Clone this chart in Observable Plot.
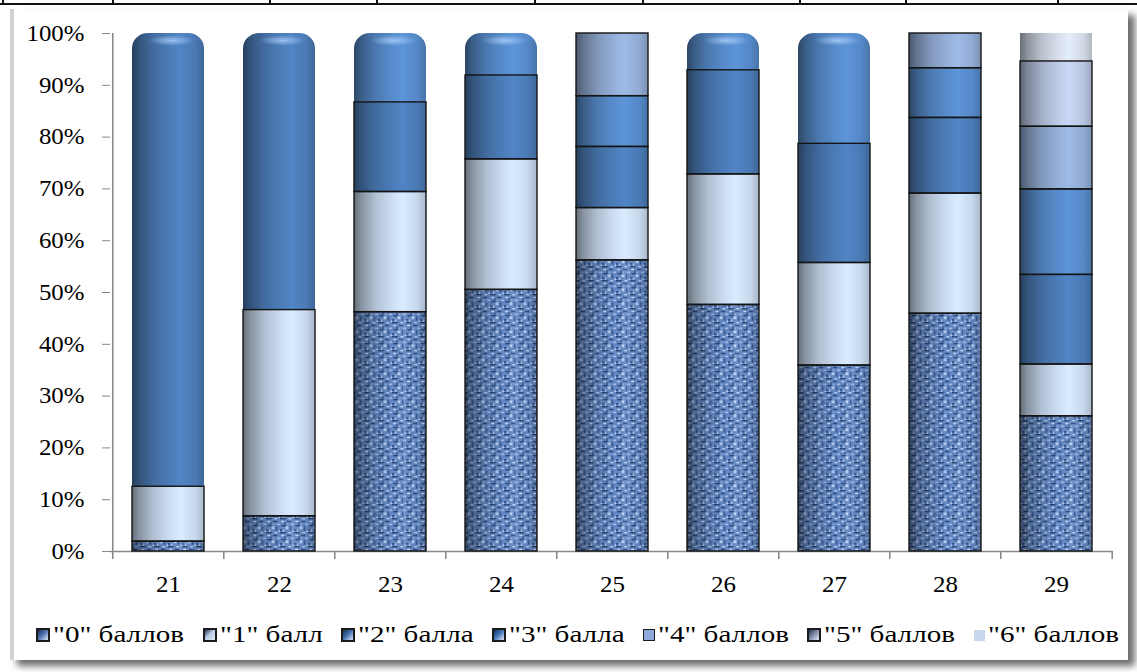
<!DOCTYPE html>
<html>
<head>
<meta charset="utf-8">
<script src="https://cdn.jsdelivr.net/npm/d3@7"></script>
<script src="https://cdn.jsdelivr.net/npm/@observablehq/plot@0.6"></script>
<style>
  html, body { margin: 0; padding: 0; background: #fff; }
  #page { position: relative; width: 1137px; height: 672px; overflow: hidden; background: #fff;
          font-family: "Liberation Serif", "Times New Roman", "DejaVu Serif", serif; }
  .hline { position: absolute; left: 0; top: 3px; width: 1137px; height: 2px; background: #111; }
  .vline { position: absolute; top: 0; width: 2px; height: 5px; background: #111; }
  #card { position: absolute; left: 10px; top: 9px; width: 1114px; height: 651px; background: #fff;
          border-left: 4px solid #d2d2d2;
          box-shadow: 7px 6px 7px rgba(60,60,60,0.75); }
  #chart { position: absolute; left: 0; top: 0; }
  #legend { position: absolute; left: 0; top: 622px; width: 1137px; display: flex; justify-content: center;
            align-items: center; gap: 18.5px; font-size: 23px; color: #000; padding-left: 18px; box-sizing: border-box; }
  .item { display: flex; align-items: center; white-space: nowrap; }
  .icon { width: 10px; height: 10px; border: 2px solid #1b1b1b; margin-right: 3px; box-sizing: content-box; }
  .lab { display: inline-block; overflow: visible; }
  .inner { display: inline-block; transform-origin: 0 50%; }
</style>
</head>
<body>
<div id="page">
  <div class="hline"></div>
  <div id="card"></div>
  <div id="chart"></div>
  <div id="legend"></div>
</div>
<script>
// ---- data (percent of pupils per score, per task) ----
const categories = ["21", "22", "23", "24", "25", "26", "27", "28", "29"];
const seriesNames = ['"0" баллов', '"1" балл', '"2" балла', '"3" балла', '"4" баллов', '"5" баллов', '"6" баллов'];
const score0 = [1.9, 6.8, 46.2, 50.5, 56.2, 47.6, 35.9, 45.9, 26.1];
const score1 = [10.6, 39.8, 23.2, 25.2, 10.1, 25.2, 19.8, 23.2, 10.0];
const score2 = [87.5, 53.4, 17.3, 16.2, 11.8, 20.1, 23.0, 14.6, 17.3];
const score3 = [0, 0, 13.3, 8.1, 9.8, 7.1, 21.3, 9.6, 16.5];
const score4 = [0, 0, 0, 0, 12.1, 0, 0, 6.7, 12.1];
const score5 = [0, 0, 0, 0, 0, 0, 0, 0, 12.6];
const score6 = [0, 0, 0, 0, 0, 0, 0, 0, 5.4];
const yTicks = [0, 10, 20, 30, 40, 50, 60, 70, 80, 90, 100];

// ---- styles ----
const seriesValues = [score0, score1, score2, score3, score4, score5, score6];
const seriesColors = ["#6186c2", "#d3e5fb", "#4f81bf", "#5a91d3", "#9ab5e0", "#c3d2ee", "#dde6f3"];
const iconColors = ["#4a70b0", "#b9cbe6", "#3f6fb0", "#3f73b8", "#8eaadb", "#7d8aa3", "#c9d5ea"];
const axisGray = "#8a8a8a";

// ---- build stacked segments ----
const segs = [];
categories.forEach((cat, i) => {
  let acc = 0;
  const list = [];
  seriesValues.forEach((vals, s) => {
    const v = vals[i];
    if (v > 0) { list.push({cat, s, y1: acc, y2: acc + v}); acc += v; }
  });
  const top = list[list.length - 1];
  if (top.s === 2 || top.s === 3) top.cap = true;
  segs.push(...list);
});
const plain = segs.filter(d => !d.cap);
const caps = segs.filter(d => d.cap);
const mid = d => (d.y1 + d.y2) / 2;
const baseFill = d => d.s === 0 ? "url(#tex0)" : `url(#g${d.s})`;

const W = 1137, H = 600;
const mL = 110, mR = 24, mT = 33, mB = 49;
const halfStep = (W - mL - mR) / categories.length / 2;
const fontStack = "'Liberation Serif', 'Times New Roman', 'DejaVu Serif', serif";

const plot = Plot.plot({
  width: W, height: H,
  marginLeft: mL, marginRight: mR, marginTop: mT, marginBottom: mB,
  style: {background: "transparent", fontFamily: fontStack, color: "#000", overflow: "visible"},
  x: {domain: categories, paddingInner: 0.354, paddingOuter: 0.177, label: null},
  y: {domain: [0, 100], label: null},
  color: {type: "identity"},
  marks: [
    Plot.ruleY([0], {stroke: axisGray, strokeWidth: 1.6}),
    Plot.ruleX([categories[0]], {x: d => d, y1: 0, y2: 100, dx: -halfStep, stroke: axisGray, strokeWidth: 1.6}),
    Plot.ruleX(categories, {x: d => d, y1: 0, y2: -1.55, dx: -halfStep, stroke: axisGray, strokeWidth: 1.6}),
    Plot.ruleX([categories[categories.length - 1]], {x: d => d, y1: 0, y2: -1.55, dx: halfStep, stroke: axisGray, strokeWidth: 1.6}),
    Plot.axisY({ticks: yTicks, tickFormat: d => d + "%", tickSize: 8, tickPadding: 18, stroke: axisGray, fontSize: 23, fontFamily: fontStack}),
    Plot.axisX({tickSize: 0, tickPadding: 24, fontSize: 23, fontFamily: fontStack}),
    // plain segments
    Plot.barY(plain, {x: "cat", y1: "y1", y2: "y2", fill: baseFill}),
    Plot.barY(plain.filter(d => d.s === 0), {x: "cat", y1: "y1", y2: "y2", fill: "url(#shade)"}),
    // rounded top segments
    Plot.barY(caps, {x: "cat", y1: "y1", y2: "y2", fill: baseFill, rx: 16, ry: 15}),
    Plot.barY(caps, {x: "cat", y1: "y1", y2: mid, fill: baseFill}),
    Plot.barY(caps, {x: "cat", y1: d => d.y2 - 3.2, y2: "y2", fill: "url(#capHi)", rx: 16, ry: 15}),
    // segment outlines
    Plot.barY(plain.filter(d => d.s !== 6), {x: "cat", y1: "y1", y2: "y2", fill: "none", stroke: "#141414", strokeWidth: 1.4})
  ]
});

// gradient / texture definitions
const shadeStops = [[0, 0.48], [0.1, 0.64], [0.3, 0.84], [0.55, 0.98], [0.68, 1.03], [0.88, 0.94], [1, 0.8]];
function gradient(id, color) {
  const c = d3.rgb(color);
  const stops = shadeStops.map(([o, k]) => {
    const s = d3.rgb(Math.min(255, c.r * k), Math.min(255, c.g * k), Math.min(255, c.b * k));
    return `<stop offset="${o}" stop-color="${s.formatHex()}"/>`;
  }).join("");
  return `<linearGradient id="${id}" x1="0" x2="1" y1="0" y2="0">${stops}</linearGradient>`;
}
const defs = `
<defs>
  ${seriesColors.map((c, i) => gradient("g" + i, c)).join("")}
  <linearGradient id="shade" x1="0" x2="1" y1="0" y2="0">
    <stop offset="0" stop-color="#000" stop-opacity="0.5"/>
    <stop offset="0.1" stop-color="#000" stop-opacity="0.3"/>
    <stop offset="0.3" stop-color="#000" stop-opacity="0.12"/>
    <stop offset="0.55" stop-color="#000" stop-opacity="0.0"/>
    <stop offset="0.68" stop-color="#fff" stop-opacity="0.08"/>
    <stop offset="0.88" stop-color="#000" stop-opacity="0.05"/>
    <stop offset="1" stop-color="#000" stop-opacity="0.22"/>
  </linearGradient>
  <radialGradient id="capHi" cx="0.55" cy="0.45" r="0.32">
    <stop offset="0" stop-color="#a9cdf8" stop-opacity="0.85"/>
    <stop offset="1" stop-color="#a9cdf8" stop-opacity="0"/>
  </radialGradient>
  <pattern id="tex0" patternUnits="userSpaceOnUse" width="10" height="10" patternTransform="scale(1.4)">
    <rect width="10" height="10" fill="#6489c4"/>
    <rect x="0" y="0" width="4" height="1" fill="#2a4575"/>
    <rect x="5" y="2" width="3" height="1" fill="#2e4b7e"/>
    <rect x="1" y="5" width="3" height="1" fill="#2a4575"/>
    <rect x="7" y="6" width="1" height="3" fill="#34548d"/>
    <rect x="3" y="3" width="1" height="2" fill="#385a94"/>
    <rect x="0" y="8" width="2" height="1" fill="#2e4b7e"/>
    <rect x="6" y="0" width="2" height="1" fill="#b7cff3"/>
    <rect x="1" y="2" width="2" height="1" fill="#c9dcf9"/>
    <rect x="4" y="6" width="2" height="2" fill="#b9d0f4"/>
    <rect x="8" y="4" width="2" height="1" fill="#a7c1eb"/>
    <rect x="2" y="8" width="1" height="2" fill="#aec7ee"/>
    <rect x="9" y="9" width="1" height="1" fill="#c4d8f7"/>
    <rect x="5" y="4" width="1" height="1" fill="#9fbbe8"/>
  </pattern>
</defs>`;
plot.insertAdjacentHTML("afterbegin", defs);
document.getElementById("chart").appendChild(plot);

// horizontally stretched serif text, as in the reference picture ("100%" label is ~58px wide)
const texts = Array.from(plot.querySelectorAll("text"));
const ref100 = texts.find(t => t.textContent === "100%");
const stretch = ref100 ? 58 / ref100.getComputedTextLength() : 1.3;
texts.forEach(t => {
  const w = t.getComputedTextLength();
  if (w > 0) { t.setAttribute("textLength", (w * stretch).toFixed(1)); t.setAttribute("lengthAdjust", "spacingAndGlyphs"); }
});

// table lines above the chart (document context)
[3, 113, 270, 377, 535, 643, 800, 906, 1058].forEach(x => {
  const v = document.createElement("div"); v.className = "vline"; v.style.left = (x - 1) + "px";
  document.getElementById("page").appendChild(v);
});

// legend
const legend = document.getElementById("legend");
seriesNames.forEach((name, s) => {
  const item = document.createElement("div"); item.className = "item";
  const icon = document.createElement("span"); icon.className = "icon";
  if (s === 6) { icon.style.border = "none"; icon.style.width = "11px"; icon.style.height = "11px"; icon.style.background = iconColors[s]; }
  else if (s === 4) { icon.style.borderWidth = "1.5px"; icon.style.background = iconColors[s]; }
  else icon.style.background = `linear-gradient(135deg, #1e2f4f 0%, ${iconColors[s]} 45%, #dfe9f7 100%)`;
  const lab = document.createElement("span"); lab.className = "lab";
  const inner = document.createElement("span"); inner.className = "inner"; inner.textContent = name;
  lab.appendChild(inner);
  item.appendChild(icon); item.appendChild(lab);
  legend.appendChild(item);
});
const inners = Array.from(legend.querySelectorAll(".inner"));
const lstretch = 131 / inners[0].getBoundingClientRect().width;
inners.forEach(el => {
  const w = el.getBoundingClientRect().width;
  el.parentNode.style.width = (w * lstretch).toFixed(1) + "px";
  el.style.transform = `scaleX(${lstretch})`;
});
</script>
</body>
</html>
